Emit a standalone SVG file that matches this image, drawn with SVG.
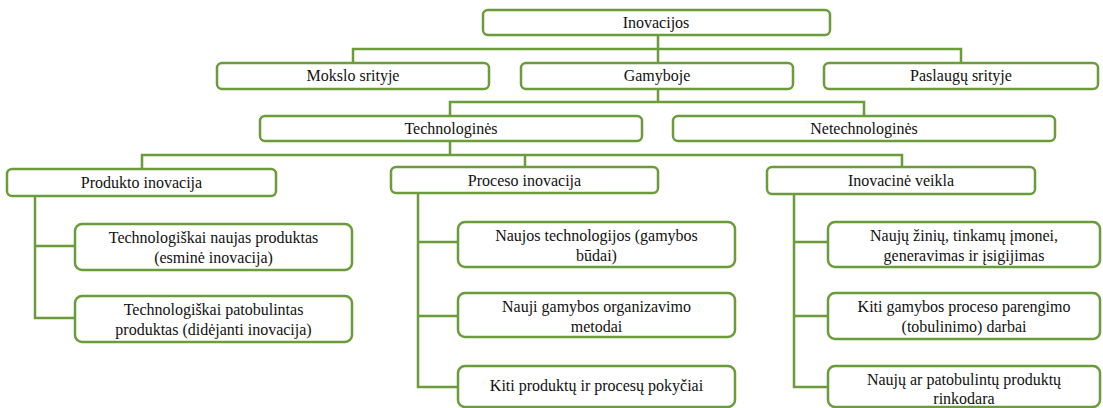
<svg xmlns="http://www.w3.org/2000/svg" width="1103" height="408" viewBox="0 0 1103 408">
<style>
.b{fill:#fff;stroke:#6a9c3a;stroke-width:2.5}
.c{fill:none;stroke:#6a9c3a;stroke-width:2.5}
</style>
<rect width="1103" height="408" fill="#fff"/>
<g id="connectors">
<path class="c" d="M658 35V49M353 63V49H961V63M658 49V63"/>
<path class="c" d="M658 89V102M450 116V102H864V116"/>
<path class="c" d="M450 141V155M142 169V155H902V167M525 155V167"/>
<path class="c" d="M35 196V318H75M35 246H75"/>
<path class="c" d="M418 193V387H458M418 242H458M418 316H458"/>
<path class="c" d="M794 194V387H828M794 242H828M794 316H828"/>
</g>
<g fill="#111" text-anchor="middle" font-family="Liberation Serif, serif" font-size="16">
<g id="n-inovacijos"><rect class="b" x="483" y="10" width="347" height="25" rx="5"/><text x="656" y="28">Inovacijos</text></g>
<g id="n-mokslo"><rect class="b" x="217" y="63" width="272" height="26" rx="5"/><text x="353" y="81">Mokslo srityje</text></g>
<g id="n-gamyboje"><rect class="b" x="521" y="63" width="272" height="26" rx="5"/><text x="657" y="81">Gamyboje</text></g>
<g id="n-paslaugu"><rect class="b" x="824" y="63" width="274" height="26" rx="5"/><text x="961" y="81">Paslaugų srityje</text></g>
<g id="n-tech"><rect class="b" x="260" y="116" width="382" height="25" rx="5"/><text x="451" y="134">Technologinės</text></g>
<g id="n-netech"><rect class="b" x="673" y="116" width="382" height="25" rx="5"/><text x="864" y="134">Netechnologinės</text></g>
<g id="n-produkto"><rect class="b" x="7" y="169" width="269" height="27" rx="5"/><text x="141.5" y="188">Produkto inovacija</text></g>
<g id="n-proceso"><rect class="b" x="391" y="167" width="267" height="26" rx="5"/><text x="524.5" y="186">Proceso inovacija</text></g>
<g id="n-inovacine"><rect class="b" x="767" y="167" width="268" height="27" rx="5"/><text x="901" y="186">Inovacinė veikla</text></g>
<g id="n-p1"><rect class="b" x="75" y="224" width="277" height="46" rx="7"/><text x="213.5" y="243">Technologiškai naujas produktas</text><text x="213.5" y="263">(esminė inovacija)</text></g>
<g id="n-p2"><rect class="b" x="75" y="296" width="277" height="46" rx="7"/><text x="213.5" y="315">Technologiškai patobulintas</text><text x="213.5" y="335">produktas (didėjanti inovacija)</text></g>
<g id="n-r1"><rect class="b" x="458" y="222" width="277" height="45" rx="7"/><text x="596.5" y="241">Naujos technologijos (gamybos</text><text x="596.5" y="261">būdai)</text></g>
<g id="n-r2"><rect class="b" x="458" y="293" width="277" height="44" rx="7"/><text x="596.5" y="312">Nauji gamybos organizavimo</text><text x="596.5" y="332">metodai</text></g>
<g id="n-r3"><rect class="b" x="458" y="366" width="277" height="41" rx="7"/><text x="596.5" y="391">Kiti produktų ir procesų pokyčiai</text></g>
<g id="n-v1"><rect class="b" x="828" y="222" width="272" height="45" rx="7"/><text x="964" y="241">Naujų žinių, tinkamų įmonei,</text><text x="964" y="261">generavimas ir įsigijimas</text></g>
<g id="n-v2"><rect class="b" x="828" y="293" width="272" height="46" rx="7"/><text x="964" y="312">Kiti gamybos proceso parengimo</text><text x="964" y="332">(tobulinimo) darbai</text></g>
<g id="n-v3"><rect class="b" x="828" y="366" width="272" height="41" rx="7"/><text x="964" y="385">Naujų ar patobulintų produktų</text><text x="964" y="404">rinkodara</text></g>
</g>
</svg>
